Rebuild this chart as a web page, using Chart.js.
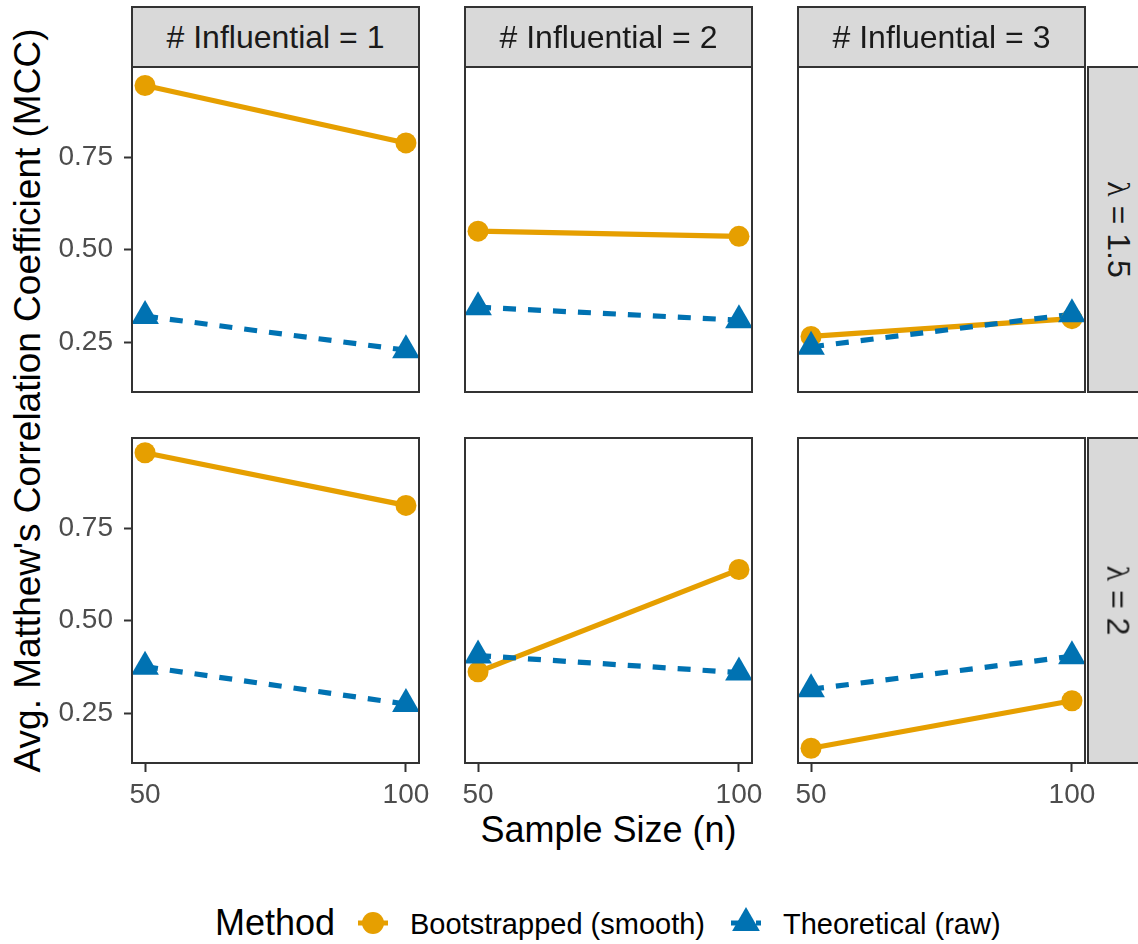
<!DOCTYPE html>
<html>
<head>
<meta charset="utf-8">
<title>MCC by sample size</title>
<script src="https://cdn.jsdelivr.net/npm/chart.js@4.4.0/dist/chart.umd.min.js"></script>
<style>
  body { margin: 0; background: #fff; font-family: 'Liberation Sans', Arial, sans-serif; }
  #wrap { position: relative; width: 1138px; height: 944px; overflow: hidden; background: #fff; }
  canvas.panel { position: absolute; }
  .strip {
    position: absolute; box-sizing: border-box; background: #d9d9d9;
    border: 2px solid #333; color: #1a1a1a; font-size: 32px;
    display: flex; align-items: center; justify-content: center; white-space: nowrap;
  }
  .strip .rot { transform: rotate(90deg); }
  .lam { font-family: 'Liberation Serif', 'DejaVu Serif', serif; }
  .title { position: absolute; font-size: 36px; color: #000; white-space: nowrap; line-height: 1; }
  .leg { position: absolute; white-space: nowrap; line-height: 1; transform: translateY(-50%); color: #000; }
  canvas.key { position: absolute; }
</style>
</head>
<body>
<div id="wrap">
  <div class="title" id="xTitle">Sample Size (n)</div>
  <div class="title" id="yTitle" style="font-size:37px;">Avg. Matthew's Correlation Coefficient (MCC)</div>
  <div class="leg" style="left:215px; top:923px; font-size:36px;">Method</div>
  <canvas class="key" id="keyBoot" width="40" height="40" style="left:353px; top:903px;"></canvas>
  <div class="leg" style="left:410px; top:924px; font-size:29px;">Bootstrapped (smooth)</div>
  <canvas class="key" id="keyTheo" width="40" height="40" style="left:726px; top:903px;"></canvas>
  <div class="leg" style="left:783px; top:924px; font-size:29px;">Theoretical (raw)</div>
</div>
<script>
// facets: columns = # influential, rows = lambda
const sampleSizes = [50, 100];
const influentialLabels = ['# Influential = 1', '# Influential = 2', '# Influential = 3'];
const lambdaLabels = ['1.5', '2'];
const xTicks = [50, 100];
const yTicks = [0.25, 0.50, 0.75];

// avg MCC, one [n=50, n=100] pair per # influential
const bootLambda15 = [[0.943, 0.788], [0.550, 0.536], [0.266, 0.314]];
const theoLambda15 = [[0.321, 0.229], [0.345, 0.310], [0.238, 0.326]];
const bootLambda2 = [[0.953, 0.811], [0.362, 0.638], [0.156, 0.284]];
const theoLambda2 = [[0.376, 0.275], [0.406, 0.360], [0.315, 0.404]];

const ORANGE = '#E69F00';
const BLUE = '#0072B2';

const boot = [bootLambda15, bootLambda2];
const theo = [theoLambda15, theoLambda2];

// panel geometry
const colLeft = [132, 465, 798];
const rowTop = [67, 438];
const panelW = 287, panelH = 325;

// shared y range, padded 5% like ggplot
const allVals = [].concat(...bootLambda15, ...theoLambda15, ...bootLambda2, ...theoLambda2);
const lo = Math.min(...allVals), hi = Math.max(...allVals);
const yMin = lo - (hi - lo) * 0.05;
const yMax = hi + (hi - lo) * 0.05;
const xMin = 50 - 2.5, xMax = 100 + 2.5;

const wrap = document.getElementById('wrap');

const panelBorder = {
  id: 'panelBorder',
  afterDraw(chart) {
    const a = chart.chartArea;
    const ctx = chart.ctx;
    ctx.save();
    ctx.strokeStyle = '#333333';
    ctx.lineWidth = 2;
    ctx.strokeRect(a.left, a.top, a.right - a.left, a.bottom - a.top);
    ctx.restore();
  }
};

function pts(vals) {
  return sampleSizes.map((n, i) => ({ x: n, y: vals[i] }));
}

// keep the plot area fixed: no label-driven padding
function noPad(s) {
  s.paddingLeft = 0; s.paddingRight = 0; s.paddingTop = 0; s.paddingBottom = 0;
}

function makePanel(r, c) {
  const padL = c === 0 ? 110 : 30;
  const padR = 30;
  const padT = 4;
  const padB = r === 1 ? 60 : 4;
  const cv = document.createElement('canvas');
  cv.className = 'panel';
  cv.width = padL + panelW + padR;
  cv.height = padT + panelH + padB;
  cv.style.left = (colLeft[c] - padL) + 'px';
  cv.style.top = (rowTop[r] - padT) + 'px';
  wrap.appendChild(cv);

  const b = boot[r][c];
  const t = theo[r][c];

  new Chart(cv, {
    type: 'line',
    data: {
      datasets: [
        { label: 'Theoretical (raw)', data: pts(t), showLine: false, pointStyle: 'triangle', pointRadius: 16,
          pointBackgroundColor: BLUE, pointBorderWidth: 0, clip: 0, order: 0 },
        { label: 'Bootstrapped (smooth)', data: pts(b), showLine: false, pointStyle: 'circle', pointRadius: 10.5,
          pointBackgroundColor: ORANGE, pointBorderWidth: 0, clip: 0, order: 1 },
        { label: 'Theoretical (raw)', data: pts(t), borderColor: BLUE, borderWidth: 5.2, borderDash: [13, 12],
          pointRadius: 0, clip: 0, order: 2 },
        { label: 'Bootstrapped (smooth)', data: pts(b), borderColor: ORANGE, borderWidth: 5.2,
          pointRadius: 0, clip: 0, order: 3 }
      ]
    },
    options: {
      responsive: false,
      maintainAspectRatio: false,
      animation: false,
      devicePixelRatio: 1,
      layout: { autoPadding: false, padding: { top: padT, right: padR, left: 0, bottom: 0 } },
      plugins: { legend: { display: false }, tooltip: { enabled: false } },
      scales: {
        x: {
          type: 'linear', min: xMin, max: xMax,
          afterBuildTicks: s => { s.ticks = xTicks.map(v => ({ value: v })); },
          afterFit: s => { s.height = padB; noPad(s); },
          ticks: { display: r === 1, padding: 6, color: '#4d4d4d', maxRotation: 0,
                   font: { family: 'Liberation Sans', size: 28 } },
          grid: { display: r === 1, drawOnChartArea: false, tickLength: 9, tickColor: '#333333', tickWidth: 2 },
          border: { display: false }
        },
        y: {
          type: 'linear', min: yMin, max: yMax,
          afterBuildTicks: s => { s.ticks = yTicks.map(v => ({ value: v })); },
          afterFit: s => { s.width = padL; noPad(s); },
          ticks: { display: c === 0, padding: 11, color: '#4d4d4d', callback: v => v.toFixed(2),
                   font: { family: 'Liberation Sans', size: 28 } },
          grid: { display: c === 0, drawOnChartArea: false, tickLength: 8, tickColor: '#333333', tickWidth: 2 },
          border: { display: false }
        }
      }
    },
    plugins: [panelBorder]
  });
}

for (let r = 0; r < 2; r++) {
  for (let c = 0; c < 3; c++) makePanel(r, c);
}

// strips along the top
influentialLabels.forEach((txt, c) => {
  const s = document.createElement('div');
  s.className = 'strip';
  s.style.left = (colLeft[c] - 1) + 'px';
  s.style.top = '6px';
  s.style.width = (panelW + 2) + 'px';
  s.style.height = '62px';
  s.textContent = txt;
  wrap.appendChild(s);
});

// strips on the right
lambdaLabels.forEach((val, r) => {
  const s = document.createElement('div');
  s.className = 'strip';
  s.style.left = (colLeft[2] + panelW + 2) + 'px';
  s.style.top = (rowTop[r] - 1) + 'px';
  s.style.width = '62px';
  s.style.height = (panelH + 2) + 'px';
  const inner = document.createElement('div');
  inner.className = 'rot';
  inner.innerHTML = '<span class="lam">\u03bb</span> = ' + val;
  s.appendChild(inner);
  wrap.appendChild(s);
});

// axis titles
const xTitle = document.getElementById('xTitle');
xTitle.style.left = (608.5 - xTitle.offsetWidth / 2) + 'px';
xTitle.style.top = (830 - xTitle.offsetHeight / 2) + 'px';
const yTitle = document.getElementById('yTitle');
yTitle.style.left = (28 - yTitle.offsetWidth / 2) + 'px';
yTitle.style.top = (400 - yTitle.offsetHeight / 2) + 'px';
yTitle.style.transform = 'rotate(-90deg)';

// legend keys
function drawKey(id, color, dashed, shape) {
  const ctx = document.getElementById(id).getContext('2d');
  ctx.strokeStyle = color;
  ctx.fillStyle = color;
  ctx.lineWidth = 5;
  if (dashed) ctx.setLineDash([13, 12]);
  ctx.beginPath();
  ctx.moveTo(5, 20);
  ctx.lineTo(35, 20);
  ctx.stroke();
  ctx.beginPath();
  if (shape === 'circle') {
    ctx.arc(20, 20, 11, 0, Math.PI * 2);
  } else {
    const rad = 16;
    ctx.moveTo(20, 20 - rad);
    ctx.lineTo(20 + rad * Math.sin(Math.PI * 2 / 3), 20 + rad / 2);
    ctx.lineTo(20 - rad * Math.sin(Math.PI * 2 / 3), 20 + rad / 2);
    ctx.closePath();
  }
  ctx.fill();
}
drawKey('keyBoot', ORANGE, false, 'circle');
drawKey('keyTheo', BLUE, true, 'triangle');
</script>
</body>
</html>
